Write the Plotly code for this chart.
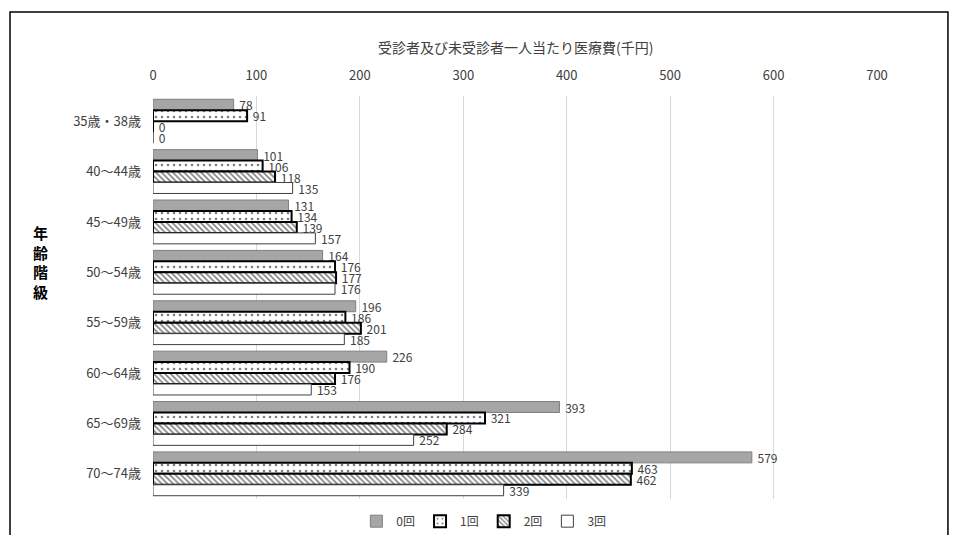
import plotly.graph_objects as go

categories = ["35歳・38歳", "40～44歳", "45～49歳", "50～54歳", "55～59歳", "60～64歳", "65～69歳", "70～74歳"]
series_names = ["0回", "1回", "2回", "3回"]
v0 = [78, 101, 131, 164, 196, 226, 393, 579]
v1 = [91, 106, 134, 176, 186, 190, 321, 463]
v2 = [0, 118, 139, 177, 201, 176, 284, 462]
v3 = [0, 135, 157, 176, 185, 153, 252, 339]
x_ticks = [0, 100, 200, 300, 400, 500, 600, 700]

FONT = "Noto Sans CJK JP"
styles = [
    dict(color="#A6A6A6", line=dict(color="#7F7F7F", width=1)),
    dict(color="white", line=dict(color="black", width=2),
         pattern=dict(shape=".", fgcolor="black", bgcolor="white", size=6, solidity=0.15)),
    dict(color="white", line=dict(color="black", width=2),
         pattern=dict(shape="\\", fgcolor="black", bgcolor="white", size=4, solidity=0.4)),
    dict(color="white", line=dict(color="#404040", width=1)),
]

fig = go.Figure()
for name, vals, st in zip(series_names, [v0, v1, v2, v3], styles):
    fig.add_trace(go.Bar(
        y=categories, x=vals, name=name, orientation="h",
        marker=st, texttemplate="\u00a0%{x}", textposition="outside",
        outsidetextfont=dict(family=FONT, size=12, color="#404040"),
        textfont=dict(family=FONT, size=12, color="#404040"),
        constraintext="none",
        cliponaxis=False,
    ))

fig.update_layout(
    width=942, height=527,
    margin=dict(l=145, r=73, t=88, b=36, autoexpand=False),
    paper_bgcolor="white", plot_bgcolor="white",
    barmode="group", bargap=0.13, bargroupgap=0,
    font=dict(family=FONT, size=13, color="#404040"),
    showlegend=True,
    legend=dict(orientation="h", x=0.457, xanchor="center", y=-0.055, yanchor="middle",
                font=dict(family=FONT, size=12, color="#404040"), itemwidth=30,
                tracegroupgap=0, traceorder="normal"),
    xaxis=dict(side="top", range=[0, 700], tickvals=x_ticks, ticks="",
               showgrid=True, gridcolor="#D9D9D9", gridwidth=1, zeroline=False,
               showline=False, ticklabelstandoff=12, automargin=False,
               tickfont=dict(family=FONT, size=13, color="#404040")),
    yaxis=dict(autorange="reversed", ticks="", showline=False, showgrid=False,
               ticklabelstandoff=11, automargin=False,
               tickfont=dict(family=FONT, size=13, color="#404040")),
)

fig.add_annotation(text="受診者及び未受診者一人当たり医療費(千円)", xref="paper", yref="paper",
                   x=0.5, y=1.1216, xanchor="center", yanchor="middle", showarrow=False,
                   font=dict(family=FONT, size=14, color="#404040"))
fig.add_annotation(text="<b>年<br>齢<br>階<br>級</b>", xref="paper", yref="paper",
                   x=-0.156, y=0.588, xanchor="center", yanchor="middle", showarrow=False,
                   font=dict(family=FONT, size=15, color="black"))
fig.add_shape(type="rect", xref="paper", yref="paper",
              x0=-0.1975, x1=1.098, y0=-0.2, y1=1.2084,
              line=dict(color="black", width=1.5), fillcolor="rgba(0,0,0,0)", layer="below")

fig.write_html("out.html")
